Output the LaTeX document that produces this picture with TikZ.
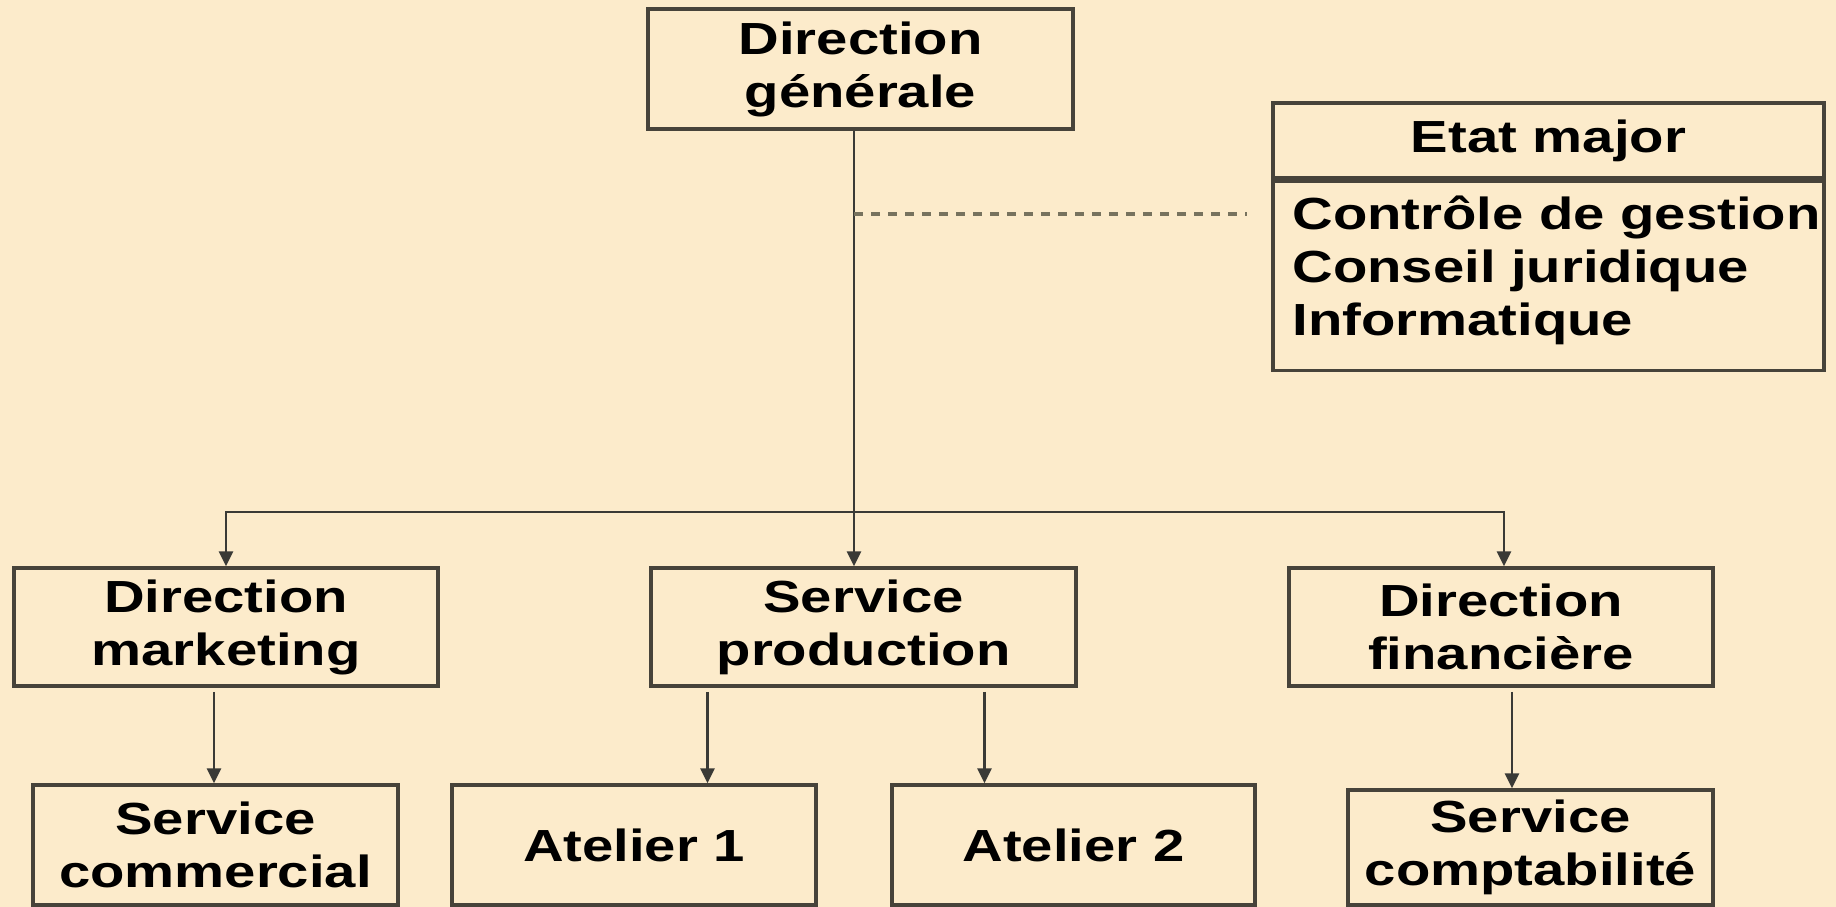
\documentclass[tikz,border=0pt]{standalone}
\usepackage{fontspec}
\setmainfont{Liberation Sans}[FakeStretch=1.25]
\usetikzlibrary{arrows.meta}
\definecolor{paper}{HTML}{FCEBCB}
\definecolor{frame}{HTML}{47433A}
\definecolor{wire}{HTML}{3A3A36}
\definecolor{dashes}{HTML}{77725E}
\begin{document}
\begin{tikzpicture}[x=1pt,y=-1pt,
  unit/.style={draw=frame, line width=3.5pt, fill=paper, inner sep=0pt, align=center,
    font=\fontsize{45}{53}\selectfont\bfseries},
  link/.style={draw=wire, line width=2.8pt, -{Triangle[length=15pt,width=14pt]}},
  staffline/.style={draw=dashes, line width=3.5pt, dash pattern=on 9pt off 8pt}]

% page and background
\fill[paper] (0,0) rectangle (1836,907);
\useasboundingbox (0,0) rectangle (1836,907);

% top management
\node[unit, minimum width=425pt, minimum height=120pt] (dg) at (860.5,69) {Direction\\générale};

% staff functions
\node[unit, minimum width=551pt, minimum height=75pt] (emh) at (1548.5,140.5) {Etat major};
\node[unit, minimum width=551pt, minimum height=189pt, anchor=north] (emb) at (emh.south) {};
\node[anchor=west, align=left, inner sep=0pt, font=\fontsize{45}{53}\selectfont\bfseries]
  (emlist) at ([xshift=21pt,yshift=6pt]emb.west) {Contrôle de gestion\\Conseil juridique\\Informatique};

% second level
\node[unit, minimum width=424pt, minimum height=118pt] (dm) at (226,627) {Direction\\marketing};
\node[unit, minimum width=425pt, minimum height=118pt] (sp) at (863.5,627) {Service\\production};
\node[unit, minimum width=424pt, minimum height=118pt] (df) at (1501,627) {Direction\\financière};

% third level
\node[unit, minimum width=365pt, minimum height=120pt] (sc) at (215.5,845) {Service\\commercial};
\node[unit, minimum width=364pt, minimum height=120pt] (a1) at (634,845) {Atelier 1};
\node[unit, minimum width=363pt, minimum height=120pt] (a2) at (1073.5,845) {Atelier 2};
\node[unit, minimum width=365pt, minimum height=115pt] (scpt) at (1530.5,847.5) {Service\\comptabilité};

% hierarchy lines
\coordinate (trunk) at (854,512);
\coordinate (staffend) at (1247,214);
\draw[link] (dg.south -| trunk) -- (sp.north -| trunk);
\draw[link] (trunk) -| (dm.north);
\draw[link] (trunk) -| ([xshift=3pt]df.north);
\draw[staffline] (trunk |- staffend) -- (staffend);

\draw[link, shorten <=4pt] ([xshift=-12pt]dm.south) -- ([xshift=-12pt]dm.south |- sc.north);
\draw[link, shorten <=4pt] ([xshift=-156pt]sp.south) -- ([xshift=-156pt]sp.south |- a1.north);
\draw[link, shorten <=4pt] ([xshift=121pt]sp.south) -- ([xshift=121pt]sp.south |- a2.north);
\draw[link, shorten <=4pt] ([xshift=11pt]df.south) -- ([xshift=11pt]df.south |- scpt.north);
\end{tikzpicture}
\end{document}
